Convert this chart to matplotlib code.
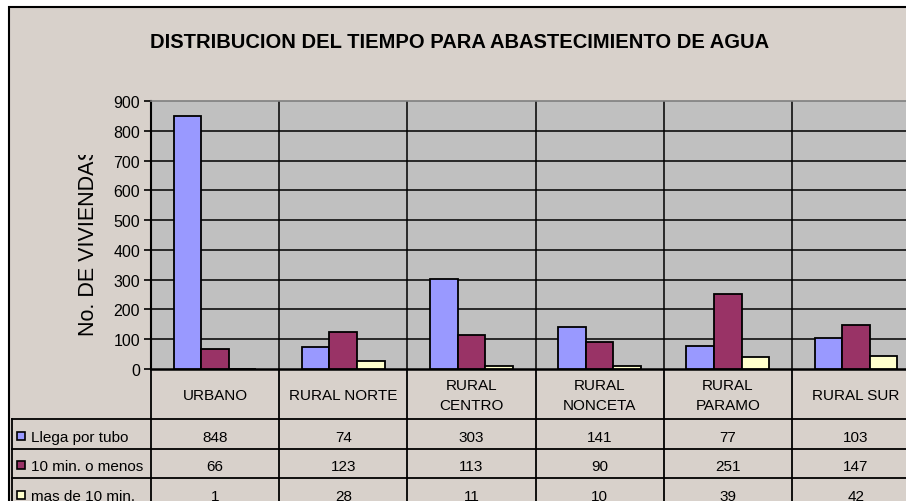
import matplotlib
matplotlib.use("Agg")
import matplotlib.pyplot as plt
import numpy as np
from matplotlib.patches import Rectangle
from matplotlib.transforms import Bbox, TransformedBbox, blended_transform_factory

plt.rcParams['font.family'] = ['Liberation Sans', 'DejaVu Sans']

categories = ["URBANO", "RURAL NORTE", "RURAL\nCENTRO", "RURAL\nNONCETA", "RURAL\nPARAMO", "RURAL SUR"]
series_names = ["Llega por tubo", "10 min. o menos", "mas de 10 min."]
llega_por_tubo = [848, 74, 303, 141, 77, 103]
diez_o_menos = [66, 123, 113, 90, 251, 147]
mas_de_diez = [1, 28, 11, 10, 39, 42]
series = [llega_por_tubo, diez_o_menos, mas_de_diez]
colors = ["#9999FF", "#993366", "#FFFFCC"]
yticks = np.arange(0, 1000, 100)

chart_bg = "#D8D1CB"
plot_bg = "#C0C0C0"

W, H = 906, 502
fig = plt.figure(figsize=(W / 100, H / 100), dpi=100, facecolor="white")

# pixel-space canvas for frame, title and data table
bg = fig.add_axes([0, 0, 1, 1], zorder=0)
bg.set_xlim(0, W)
bg.set_ylim(H, 0)
bg.axis("off")
bg.add_patch(Rectangle((9, 8), W + 20, H + 20, facecolor=chart_bg,
                       edgecolor="black", linewidth=1.5))

bg.text(460, 43, "DISTRIBUCION DEL TIEMPO PARA ABASTECIMIENTO DE AGUA",
        ha="center", va="center", fontsize=14.5, fontweight="bold")

ylab = bg.text(88, 241, "No. DE VIVIENDAS", rotation=90, ha="center",
               va="center", fontsize=15.5)
ylab.set_clip_on(True)
ylab.set_clip_box(TransformedBbox(Bbox.from_extents(0, 0, 1, 1 - 156 / H),
                                  fig.transFigure))

# bar plot area
left, right, top, bottom = 151, 920, 102, 370
ax = fig.add_axes([left / W, 1 - bottom / H, (right - left) / W, (bottom - top) / H],
                  zorder=2)
ax.set_facecolor(plot_bg)
x = np.arange(len(categories))
w = 0.215
for i, (vals, c) in enumerate(zip(series, colors)):
    ax.bar(x + (i - 1) * w, vals, width=w, color=c, edgecolor="black",
           linewidth=1.3, zorder=3)

ax.set_xlim(-0.5, len(categories) - 0.5)
ax.set_ylim(0, 900)
ax.set_yticks(yticks)
ax.set_xticks([])
ax.tick_params(axis="y", direction="out", length=5, width=1.2, labelsize=11.5, pad=3)
for yv in yticks[1:-1]:
    ax.axhline(yv, color="black", linewidth=1.1, zorder=1)
for xb in np.arange(0.5, len(categories) - 0.5):
    ax.axvline(xb, color="black", linewidth=1.1, zorder=1)
ax.spines["top"].set_color("#808080")
ax.spines["top"].set_linewidth(1.2)
ax.spines["right"].set_visible(False)
ax.spines["left"].set_linewidth(1.5)
ax.spines["bottom"].set_linewidth(1.8)

# data table below the axis
tr = blended_transform_factory(ax.transData, bg.transData)
row_lines = [420, 449.5, 479, 508.5]
for yl in row_lines:
    bg.plot([12, W], [yl, yl], color="black", lw=1.3)
bg.plot([12, 12], [420, H], color="black", lw=1.3)
for xb in np.arange(-0.5, len(categories) + 0.5):
    bg.plot([xb, xb], [bottom, H], color="black", lw=1.3, transform=tr)

for xi, name in zip(x, categories):
    bg.text(xi, 396, name, transform=tr, ha="center", va="center",
            fontsize=11, linespacing=1.6)

for r, (name, vals, c) in enumerate(zip(series_names, series, colors)):
    yc = (row_lines[r] + row_lines[r + 1]) / 2 + 3
    bg.add_patch(Rectangle((17, yc - 5), 8, 8, facecolor=c,
                           edgecolor="black", linewidth=1.2))
    bg.text(31, yc, name, ha="left", va="center", fontsize=11)
    for xi, v in zip(x, vals):
        bg.text(xi, yc, str(v), transform=tr, ha="center", va="center",
                fontsize=11)

fig.savefig("out.png", dpi=100, facecolor="white")
